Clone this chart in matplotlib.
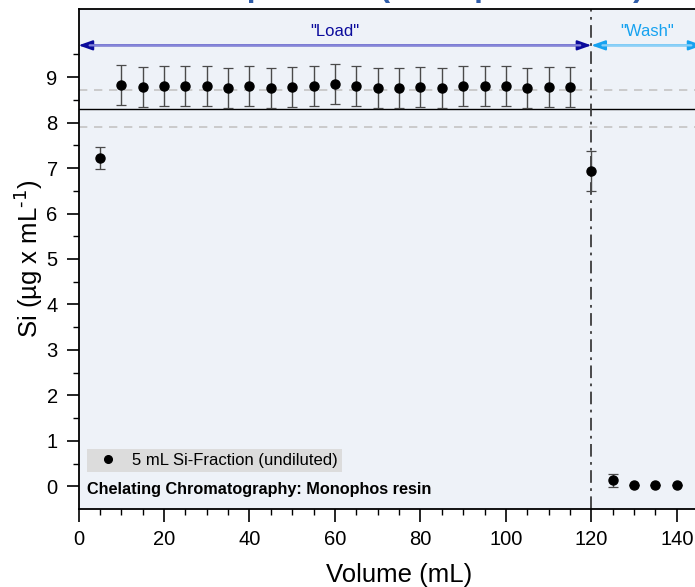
import numpy as np
import matplotlib.pyplot as plt
from matplotlib.lines import Line2D
from matplotlib.ticker import MultipleLocator

plt.rcParams['font.family'] = ['Liberation Sans', 'DejaVu Sans']

# Si in the collected 5 mL fractions (load phase, then wash)
volume = [5, 10, 15, 20, 25, 30, 35, 40, 45, 50, 55, 60, 65, 70, 75, 80,
          85, 90, 95, 100, 105, 110, 115, 120, 125, 130, 135, 140]
si_conc = [7.22, 8.82, 8.79, 8.81, 8.80, 8.81, 8.77, 8.80, 8.77, 8.78, 8.81,
           8.85, 8.80, 8.77, 8.76, 8.79, 8.77, 8.81, 8.80, 8.80, 8.76, 8.79,
           8.79, 6.93, 0.13, 0.03, 0.03, 0.03]
si_err = [0.24, 0.44, 0.44, 0.44, 0.44, 0.44, 0.44, 0.44, 0.44, 0.44, 0.44,
          0.44, 0.44, 0.44, 0.44, 0.44, 0.44, 0.44, 0.44, 0.44, 0.44, 0.44,
          0.44, 0.44, 0.14, 0.0, 0.0, 0.0]

# loaded Si concentration with its uncertainty
ref_value = 8.31
ref_unc = 0.40

load_range = (0, 120)
wash_range = (120, 146)

fig = plt.figure(figsize=(6.95, 5.87), dpi=100)
ax = fig.add_axes([0.113, 0.1329, 0.9223, 0.8518])
ax.set_facecolor('#eef2f8')

ax.axhline(ref_value, color='black', lw=1.0, zorder=2)
ax.axhline(ref_value + ref_unc, color='#c4c4c4', lw=1.2, ls=(0, (5, 4)), zorder=1)
ax.axhline(ref_value - ref_unc, color='#c4c4c4', lw=1.2, ls=(0, (5, 4)), zorder=1)
ax.axvline(load_range[1], color='#3c3c3c', lw=1.3, ls=(0, (7, 3, 1.5, 3)), zorder=2)

ax.errorbar(volume, si_conc, yerr=si_err, fmt='o', color='black', ms=6.5,
            ecolor='#4a4a4a', elinewidth=1.0, capsize=3.8, capthick=0.9,
            zorder=4)


def phase_arrow(x0, x1, y, head_col, line_col, text, text_y):
    # dark heads, lighter shaft
    ax.annotate('', xy=(x1, y), xytext=(x0, y),
                arrowprops=dict(arrowstyle='<|-|>,head_length=0.85,head_width=0.3',
                                color=head_col, lw=1.4, shrinkA=0, shrinkB=0))
    ax.annotate('', xy=(x1, y), xytext=(x0, y),
                arrowprops=dict(arrowstyle='-', color=line_col, lw=1.6,
                                shrinkA=8, shrinkB=8))
    ax.text((x0 + x1) / 2, text_y, text, color=head_col, fontsize=12,
            ha='center', va='center')


phase_arrow(load_range[0], load_range[1], 9.70, '#0b0b9c', '#8585da', '"Load"', 10.0)
phase_arrow(wash_range[0], wash_range[1], 9.70, '#16a2f0', '#8ad0f8', '"Wash"', 10.0)

ax.set_xlim(0, 150)
ax.set_ylim(-0.5, 10.5)
ax.set_xticks(np.arange(0, 150, 20))
ax.xaxis.set_minor_locator(MultipleLocator(5))
ax.set_yticks(np.arange(0, 10, 1))
ax.set_yticks(np.arange(-0.5, 10, 0.5)[1:], minor=True)
ax.tick_params(which='major', direction='out', length=9, width=1.2,
               labelsize=14.5, pad=6)
ax.tick_params(which='minor', direction='out', length=4.5, width=1.0)
for s in ax.spines.values():
    s.set_linewidth(1.3)

ax.set_xlabel('Volume (mL)', fontsize=18.5)
ax.xaxis.set_label_coords(0.5, -0.1454)
ax.xaxis.label.set_va('baseline')
ax.set_ylabel('Si (µg x mL$^{\\text{-}1}$)', fontsize=18.5)
ax.yaxis.set_label_coords(-0.052, 0.5)

dot = Line2D([], [], ls='none', marker='o', color='black', ms=5.5)
leg = ax.legend([dot], ['5 mL Si-Fraction (undiluted)'], loc='lower left',
                bbox_to_anchor=(0.0128, 0.0734), fontsize=12,
                frameon=True, fancybox=False, borderpad=0.25, borderaxespad=0,
                handlelength=2.0, handletextpad=0.45)
leg.get_frame().set_facecolor('#dcdcdc')
leg.get_frame().set_edgecolor('none')
leg.get_frame().set_alpha(1)

ax.text(2.0, -0.07, 'Chelating Chromatography: Monophos resin', fontsize=11.7,
        fontweight='bold', ha='left', va='center')

fig.text(0.926, 1.007, 'Si Separation (Monophos resin)', fontsize=22.6,
         fontweight='bold', color='#2f5ca8', ha='right', va='baseline')

plt.savefig('out.png', dpi=100, facecolor='white')
